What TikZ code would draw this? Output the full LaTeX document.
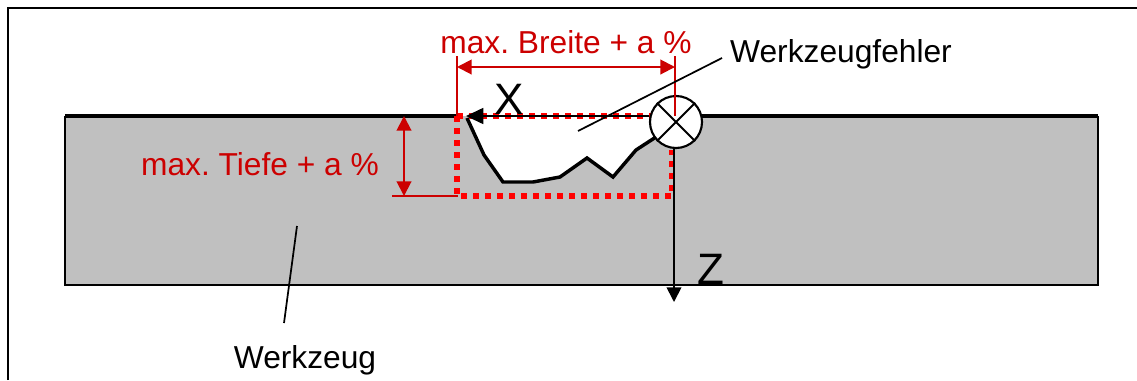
\documentclass[tikz,border=0pt]{standalone}
\usepackage{fontspec}
\setmainfont{Liberation Sans}
\usetikzlibrary{arrows.meta}
\definecolor{dimred}{RGB}{204,0,0}
\definecolor{toolgray}{RGB}{192,192,192}
\tikzset{
  lbl/.style={inner sep=0pt, font=\fontsize{23.8}{26}\selectfont\frenchspacing},
  dimlbl/.style={lbl, text=dimred},
  axlbl/.style={inner sep=0pt, font=\fontsize{33}{36}\selectfont},
  dimline/.style={dimred, line width=1.5pt},
  leader/.style={black, line width=1.3pt},
  dimtip/.style={{Triangle[length=11pt,width=11pt]}-{Triangle[length=11pt,width=11pt]}},
  envelope/.style={red, line width=4.5pt, dash pattern=on 4.5pt off 4.5pt}
}
\begin{document}
\begin{tikzpicture}[x=0.75pt,y=-0.75pt]
  \useasboundingbox (0,0) rectangle (1137,380);
  \fill[white] (0,0) rectangle (1137,380);

  % frame, open at the bottom
  \draw[black, line width=1.5pt] (7.5,380) -- (7.5,7.5) -- (1137,7.5);

  % tool body and surface
  \fill[toolgray] (65,116) -- (467,116) -- (484,155) -- (503,182) -- (533,182) -- (560,177)
    -- (587,158) -- (613,177) -- (636,150) -- (655,137) -- (675,116) -- (1098,116)
    -- (1098,285) -- (65,285) -- cycle;
  \draw[black, line width=1.4pt] (65,116) -- (65,285) -- (1098,285) -- (1098,116);
  \draw[black, line width=2.6pt] (65,116) -- (458,116);
  \draw[black, line width=2.6pt] (677,116) -- (1098,116);
  \draw[black, line width=2.6pt] (467,118) -- (484,155) -- (503,182) -- (533,182) -- (560,177)
    -- (587,158) -- (613,177) -- (636,150) -- (656,137);

  % error envelope
  \draw[envelope] (457,116) -- (457,196) -- (672,196) -- (672,150);
  \draw[envelope] (457,116) -- (652,116);

  % axes
  \node[circle, draw=black, fill=white, line width=1.6pt, minimum size=39pt, inner sep=0pt] (origin) at (676,122) {};
  \coordinate (xend) at (466,116);
  \coordinate (zend) at (674,302);
  \draw[black, line width=1.3pt, -{Triangle[length=13pt,width=12pt]}] (origin.west |- xend) -- (xend);
  \draw[black, line width=1.3pt, -{Triangle[length=11pt,width=11pt]}] (origin.south -| zend) -- (zend);
  \draw[black, line width=1.5pt] (origin.45) -- (origin.225);
  \draw[black, line width=1.5pt] (origin.135) -- (origin.315);
  \node[axlbl] (xlabel) at (509,99) {X};
  \node[axlbl] (zlabel) at (711,269) {Z};

  % width dimension
  \coordinate (wl) at (457,56);
  \coordinate (wlb) at (457,116);
  \coordinate (wr) at (675,56);
  \coordinate (wrb) at (675,116);
  \draw[dimline] (wl) -- (wlb);
  \draw[dimline] (wr) -- (wrb);
  \draw[dimline, dimtip] (457,67) -- (675,67);
  \node[dimlbl] (breite) at (566,42) {max. Breite + a \%};

  % depth dimension
  \coordinate (dt) at (404,116);
  \coordinate (db) at (404,196);
  \coordinate (dl) at (392,196);
  \coordinate (dr) at (458,196);
  \draw[dimline] (dl) -- (dr);
  \draw[dimline, dimtip] (dt) -- (db);
  \node[dimlbl] (tiefe) at (260,164) {max. Tiefe + a \%};

  % leaders
  \node[lbl] (fehler) at (841,54) {Werkzeugfehler};
  \node[lbl] (werkzeug) at (305,360) {Werkzeug};
  \coordinate (fa) at (722,58);
  \coordinate (fb) at (578,131);
  \coordinate (wa) at (297,226);
  \coordinate (wb) at (284,323);
  \draw[leader] (fa) -- (fb);
  \draw[leader] (wa) -- (wb);
\end{tikzpicture}
\end{document}
